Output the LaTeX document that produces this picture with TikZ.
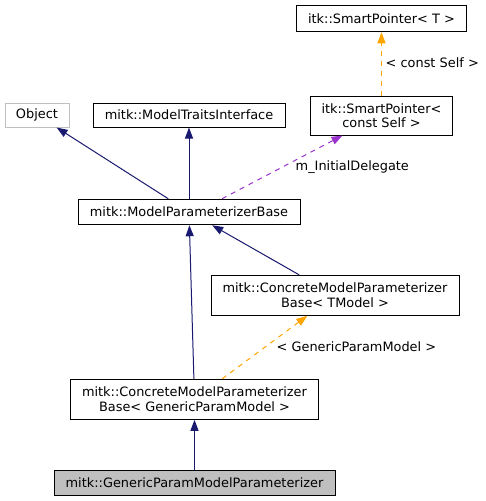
\documentclass[tikz,border=0pt]{standalone}
\usepackage{fontspec}
\setmainfont{DejaVu Sans}
\usetikzlibrary{arrows.meta}
\definecolor{navy}{HTML}{191970}
\definecolor{orng}{HTML}{FFA500}
\definecolor{orch}{HTML}{9A32CD}
\tikzset{
  box/.style={draw=black,line width=1pt,inner sep=0pt,align=center,font=\fontsize{12.9}{14.3}\selectfont},
  lbl/.style={anchor=west,inner sep=0pt,font=\fontsize{12.9}{14.3}\selectfont},
  inh/.style={navy,line width=1pt,-{Triangle[length=11pt,width=8pt]}},
  tpl/.style={orng,line width=1pt,dash pattern=on 5pt off 5pt,-{Triangle[length=11pt,width=8pt]}},
  use/.style={orch,line width=1pt,dash pattern=on 5pt off 5pt,-{Triangle[length=11pt,width=8pt]}}
}
\begin{document}
\begin{tikzpicture}[x=1pt,y=-1pt]
        \useasboundingbox (0,0) rectangle (485,501);
        \node[box,minimum width=170pt,minimum height=26.5pt](spt) at (381.5,18.5) {itk::SmartPointer< T >};
        \node[box,minimum width=142pt,minimum height=39pt](spc) at (381.5,115.5) {itk::SmartPointer<\\const Self >};
        \node[box,draw=black!25,minimum width=64pt,minimum height=24pt](obj) at (37,115) {Object};
        \node[box,minimum width=192pt,minimum height=24pt](mti) at (189,115) {mitk::ModelTraitsInterface};
        \node[box,minimum width=222pt,minimum height=25.5pt](mpb) at (189,212) {mitk::ModelParameterizerBase};
        \node[box,minimum width=248pt,minimum height=40pt](ctm) at (335,295.3) {mitk::ConcreteModelParameterizer\\Base< TModel >};
        \node[box,minimum width=248.4pt,minimum height=40pt](cgp) at (194.5,399.3) {mitk::ConcreteModelParameterizer\\Base< GenericParamModel >};
        \node[box,fill=black!25,minimum width=281pt,minimum height=25.3pt](gpm) at (194.5,482.7) {mitk::GenericParamModelParameterizer};
        \draw[tpl](spc)--(spt);
        \draw[inh](mpb)--(obj);
        \draw[inh](mpb)--(mti);
        \draw[use]([xshift=33pt]mpb.north)--([xshift=-39pt]spc.south);
        \draw[inh](ctm)--(mpb);
        \draw[inh](cgp)--(mpb);
        \draw[tpl](cgp)--(ctm);
        \draw[inh](gpm)--(cgp);
        \node[lbl](l1) at (385.5,62.3) {< const Self >};
        \node[lbl](l2) at (295.5,166.7) {m\_InitialDelegate};
        \node[lbl](l3) at (276.5,346.7) {< GenericParamModel >};
        \end{tikzpicture}
\end{document}
